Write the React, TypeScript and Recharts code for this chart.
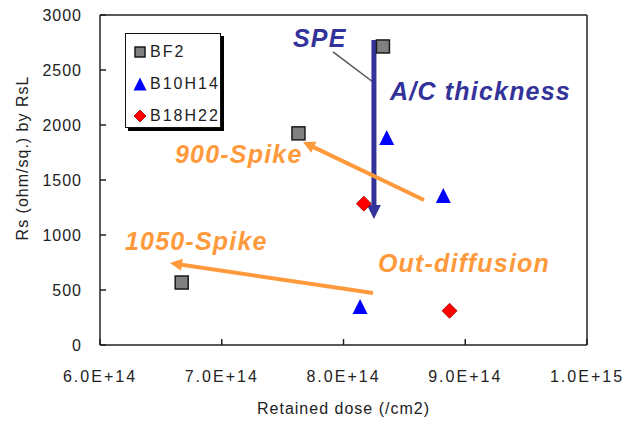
import { ScatterChart, Scatter, XAxis, YAxis, ReferenceLine, ReferenceDot, Legend } from 'recharts';

const bf2Dose = [6.671e14, 7.63e14, 8.324e14];
const bf2Rs = [568, 1924, 2714];
const b10Dose = [8.355e14, 8.82e14, 8.136e14];
const b10Rs = [1886, 1359, 350];
const b18Dose = [8.167e14, 8.871e14];
const b18Rs = [1285, 311];

const xTicks = [6e14, 7e14, 8e14, 9e14, 1e15];
const yTicks = [0, 500, 1000, 1500, 2000, 2500, 3000];

// annotations in data space
const notes = [
  { text: 'SPE', x: 7.585e14, y: 2709, color: '#333399' },
  { text: 'A/C thickness', x: 8.382e14, y: 2227, color: '#333399' },
  { text: '900-Spike', x: 6.616e14, y: 1655, color: '#FF9A3C' },
  { text: '1050-Spike', x: 6.205e14, y: 864, color: '#FF9A3C' },
  { text: 'Out-diffusion', x: 8.283e14, y: 664, color: '#FF9A3C' },
];

const arrows = [
  { from: [8.25e14, 2773], to: [8.25e14, 1145], color: '#333399', w: 5, head: 14 },
  { from: [8.661e14, 1318], to: [7.667e14, 1845], color: '#FF9A3C', w: 4, head: 12 },
  { from: [8.242e14, 473], to: [6.575e14, 745], color: '#FF9A3C', w: 4, head: 12 },
];

const toPts = (xs: number[], ys: number[]) => xs.map((x, i) => ({ x, y: ys[i] }));

const fmtSci = (v: number) => {
  const e = Math.floor(Math.log10(v) + 1e-9);
  return `${(v / Math.pow(10, e)).toFixed(1)}E+${e}`;
};

const FONT = 'Arial, "Liberation Sans", sans-serif';

const Square = ({ cx, cy, s = 13 }: any) => (
  <rect x={cx - s / 2} y={cy - s / 2} width={s} height={s} fill="#808080" stroke="#1a1a1a" strokeWidth={1.5} />
);
const Tri = ({ cx, cy, s = 15 }: any) => (
  <polygon points={`${cx},${cy - s / 2} ${cx + s / 2},${cy + s / 2} ${cx - s / 2},${cy + s / 2}`} fill="#0000FF" />
);
const Diamond = ({ cx, cy, s = 15 }: any) => (
  <polygon
    points={`${cx},${cy - s / 2} ${cx + s / 2},${cy} ${cx},${cy + s / 2} ${cx - s / 2},${cy}`}
    fill="#FF0000"
    stroke="#a00000"
    strokeWidth={0.8}
  />
);

const YTick = ({ x, y, payload }: any) => (
  <g>
    <line x1={x + 18} x2={x + 24} y1={y} y2={y} stroke="#222" strokeWidth={1.5} />
    <text x={x} y={y + 6} textAnchor="end" fontSize={16} fontFamily={FONT} fill="#222" letterSpacing={1}>
      {payload.value}
    </text>
  </g>
);

const XTick = ({ x, y, payload }: any) => (
  <g>
    <line x1={x} x2={x} y1={y - 6} y2={y} stroke="#222" strokeWidth={1.5} />
    <text x={x} y={y + 37} textAnchor="middle" fontSize={16} fontFamily={FONT} fill="#222" letterSpacing={2}>
      {fmtSci(payload.value)}
    </text>
  </g>
);

const Arrow = (color: string, w: number, head: number) => (p: any) => {
  const { x1, y1, x2, y2 } = p;
  const dx = x2 - x1;
  const dy = y2 - y1;
  const len = Math.sqrt(dx * dx + dy * dy);
  const ux = dx / len;
  const uy = dy / len;
  const bx = x2 - ux * head;
  const by = y2 - uy * head;
  const hw = head / 2;
  return (
    <g>
      <line x1={x1} y1={y1} x2={bx + ux * 2} y2={by + uy * 2} stroke={color} strokeWidth={w} />
      <polygon points={`${x2},${y2} ${bx - uy * hw},${by + ux * hw} ${bx + uy * hw},${by - ux * hw}`} fill={color} />
    </g>
  );
};

const legendRows = [
  { name: 'BF2', icon: <Square cx={8} cy={8} s={10} /> },
  { name: 'B10H14', icon: <Tri cx={8} cy={8} s={13} /> },
  { name: 'B18H22', icon: <Diamond cx={8} cy={8} s={12} /> },
];

const LegendBox = () => (
  <div
    style={{
      width: 96,
      height: 95,
      border: '1.5px solid #111',
      background: '#fff',
      boxShadow: '3px 3px 0 #000',
      fontFamily: FONT,
      fontSize: 16,
      letterSpacing: 2,
      color: '#222',
      paddingTop: 8,
      boxSizing: 'border-box',
    }}
  >
    {legendRows.map((r) => (
      <div key={r.name} style={{ display: 'flex', alignItems: 'center', height: 32, marginTop: -6, marginBottom: 6 }}>
        <svg width={16} height={16} style={{ marginLeft: 6, marginRight: 2 }}>
          {r.icon}
        </svg>
        <span>{r.name}</span>
      </div>
    ))}
  </div>
);

export default function App() {
  return (
    <div style={{ position: 'absolute', left: 0, top: 0, background: '#fff' }}>
      <ScatterChart width={639} height={425} margin={{ top: 15, right: 52, left: 0, bottom: 30 }}>
        <XAxis
          type="number"
          dataKey="x"
          domain={[6e14, 1e15]}
          ticks={xTicks}
          interval={0}
          allowDataOverflow
          tickSize={0}
          tickMargin={0}
          tick={<XTick />}
          height={50}
          stroke="#222"
          strokeWidth={1.5}
          label={{
            value: 'Retained dose (/cm2)',
            position: 'bottom',
            offset: 8,
            fontSize: 16,
            fontFamily: FONT,
            fill: '#222',
            letterSpacing: 1,
          }}
        />
        <YAxis
          type="number"
          dataKey="y"
          domain={[0, 3000]}
          ticks={yTicks}
          interval={0}
          allowDataOverflow
          tickSize={0}
          tickMargin={18}
          tick={<YTick />}
          width={100}
          stroke="#222"
          strokeWidth={1.5}
          label={
            <text
              x={28}
              y={180}
              transform="rotate(-90, 28, 180)"
              textAnchor="middle"
              fontSize={16}
              fontFamily={FONT}
              fill="#222"
              letterSpacing={1}
            >
              Rs (ohm/sq.) by RsL
            </text>
          }
        />
        <ReferenceLine y={3000} stroke="#222" strokeWidth={1.5} />
        <ReferenceLine x={1e15} stroke="#222" strokeWidth={1.5} />
        <ReferenceLine
          segment={[
            { x: 7.914e14, y: 2664 },
            { x: 8.242e14, y: 2391 },
          ]}
          stroke="#555"
          strokeWidth={1.5}
        />
        <Scatter name="BF2" data={toPts(bf2Dose, bf2Rs)} isAnimationActive={false} shape={(p: any) => <Square cx={p.cx} cy={p.cy} />} />
        <Scatter name="B10H14" data={toPts(b10Dose, b10Rs)} isAnimationActive={false} shape={(p: any) => <Tri cx={p.cx} cy={p.cy} />} />
        <Scatter name="B18H22" data={toPts(b18Dose, b18Rs)} isAnimationActive={false} shape={(p: any) => <Diamond cx={p.cx} cy={p.cy} />} />
        {arrows.map((a, i) => (
          <ReferenceLine
            key={`a${i}`}
            segment={[
              { x: a.from[0], y: a.from[1] },
              { x: a.to[0], y: a.to[1] },
            ]}
            stroke={a.color}
            shape={Arrow(a.color, a.w, a.head)}
          />
        ))}
        {notes.map((n) => (
          <ReferenceDot
            key={n.text}
            x={n.x}
            y={n.y}
            r={0}
            fill="none"
            stroke="none"
            label={(props: any) => (
              <text
                x={props.viewBox.x}
                y={props.viewBox.y}
                fontSize={25}
                fontWeight="bold"
                fontStyle="italic"
                fontFamily={FONT}
                fill={n.color}
                letterSpacing={1.2}
              >
                {n.text}
              </text>
            )}
          />
        ))}
        <Legend
          layout="horizontal"
          verticalAlign="middle"
          align="center"
          content={() => <LegendBox />}
          wrapperStyle={{ left: 125, top: 33, width: 100, height: 98 }}
        />
      </ScatterChart>
    </div>
  );
}
